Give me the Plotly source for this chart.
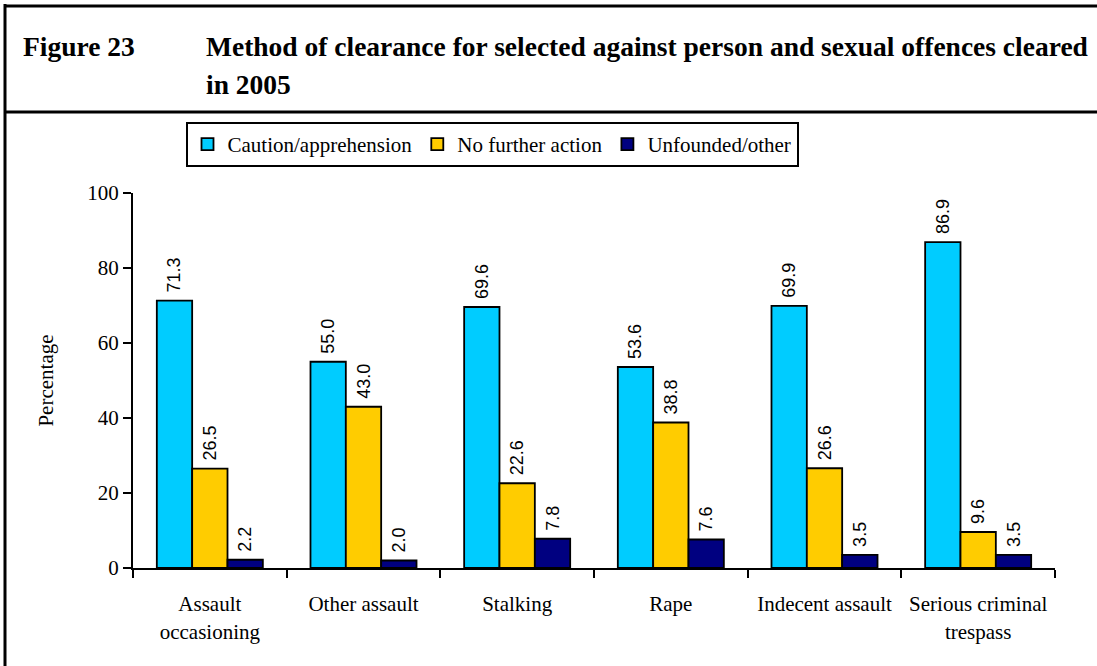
import plotly.graph_objects as go

# Offence categories (x axis) and clearance method shares (%)
categories = ["Assault<br>occasioning", "Other assault", "Stalking", "Rape",
              "Indecent assault", "Serious criminal<br>trespass"]
caution_apprehension = [71.3, 55.0, 69.6, 53.6, 69.9, 86.9]
no_further_action = [26.5, 43.0, 22.6, 38.8, 26.6, 9.6]
unfounded_other = [2.2, 2.0, 7.8, 7.6, 3.5, 3.5]
series_names = ["Caution/apprehension", "No further action", "Unfounded/other"]
series_colors = ["#00CCFF", "#FFCC00", "#000080"]
y_ticks = [0, 20, 40, 60, 80, 100]

SERIF = "Liberation Serif"
SANS = "Liberation Sans"

fig = go.Figure()
for name, vals, col in zip(series_names,
                           [caution_apprehension, no_further_action, unfounded_other],
                           series_colors):
    fig.add_trace(go.Bar(
        x=categories, y=vals, name=name,
        marker=dict(color=col, line=dict(color="black", width=1.8)),
        # leading no-break space lifts the rotated label a little off the bar
        texttemplate="\u00a0%{y:.1f}", textposition="outside", textangle=-90,
        textfont=dict(family=SANS, size=18, color="black"),
        cliponaxis=False, constraintext="none",
    ))

# Plot area spans pixels x 133..1055, y 193..568
W, H = 1097, 666
L, R, T, B = 133, 42, 193, 98
pw, ph = W - L - R, H - T - B


def px(x):
    return (x - L) / pw


def py(y):
    return (H - B - y) / ph


frame = dict(color="black", width=3)
shapes = [
    dict(type="line", xref="paper", yref="paper", x0=px(4), x1=px(1100), y0=py(6), y1=py(6), line=frame),
    dict(type="line", xref="paper", yref="paper", x0=px(4), x1=px(1100), y0=py(112), y1=py(112), line=frame),
    dict(type="line", xref="paper", yref="paper", x0=px(5), x1=px(5), y0=py(4), y1=py(670), line=frame),
]

title_font = dict(family=SERIF, size=27.5, color="black")
annotations = [
    dict(text="<b>Figure 23</b>", xref="paper", yref="paper", x=px(21), y=py(46),
         xanchor="left", yanchor="middle", showarrow=False, font=title_font),
    dict(text="<b>Method of clearance for selected against person and sexual offences cleared</b>",
         xref="paper", yref="paper", x=px(204), y=py(46),
         xanchor="left", yanchor="middle", showarrow=False, font=title_font),
    dict(text="<b>in 2005</b>", xref="paper", yref="paper", x=px(204), y=py(84),
         xanchor="left", yanchor="middle", showarrow=False, font=title_font),
]

fig.update_layout(
    width=W, height=H,
    margin=dict(l=L, r=R, t=T, b=B),
    paper_bgcolor="white", plot_bgcolor="white",
    barmode="group", bargap=0.31, bargroupgap=0,
    font=dict(family=SERIF, size=21, color="black"),
    showlegend=True,
    legend=dict(orientation="h", x=px(492), xanchor="center", y=py(122), yanchor="top",
                bordercolor="black", borderwidth=2, bgcolor="white",
                font=dict(family=SERIF, size=21, color="black"),
                itemwidth=30, tracegroupgap=0),
    shapes=shapes, annotations=annotations,
    xaxis=dict(showline=True, linecolor="black", linewidth=2, ticks="outside",
               tickson="boundaries", ticklen=8, tickwidth=2, tickcolor="black",
               ticklabelstandoff=16,
               tickfont=dict(family=SERIF, size=21, color="black"),
               showgrid=False, zeroline=False),
    yaxis=dict(range=[0, 100], tickvals=y_ticks, showline=True, linecolor="black",
               linewidth=2, ticks="outside", ticklen=8, tickwidth=2, tickcolor="black",
               tickfont=dict(family=SERIF, size=21, color="black"),
               showgrid=False, zeroline=False,
               title=dict(text="Percentage", standoff=28,
                          font=dict(family=SERIF, size=21, color="black"))),
)

fig.write_html("out.html")
